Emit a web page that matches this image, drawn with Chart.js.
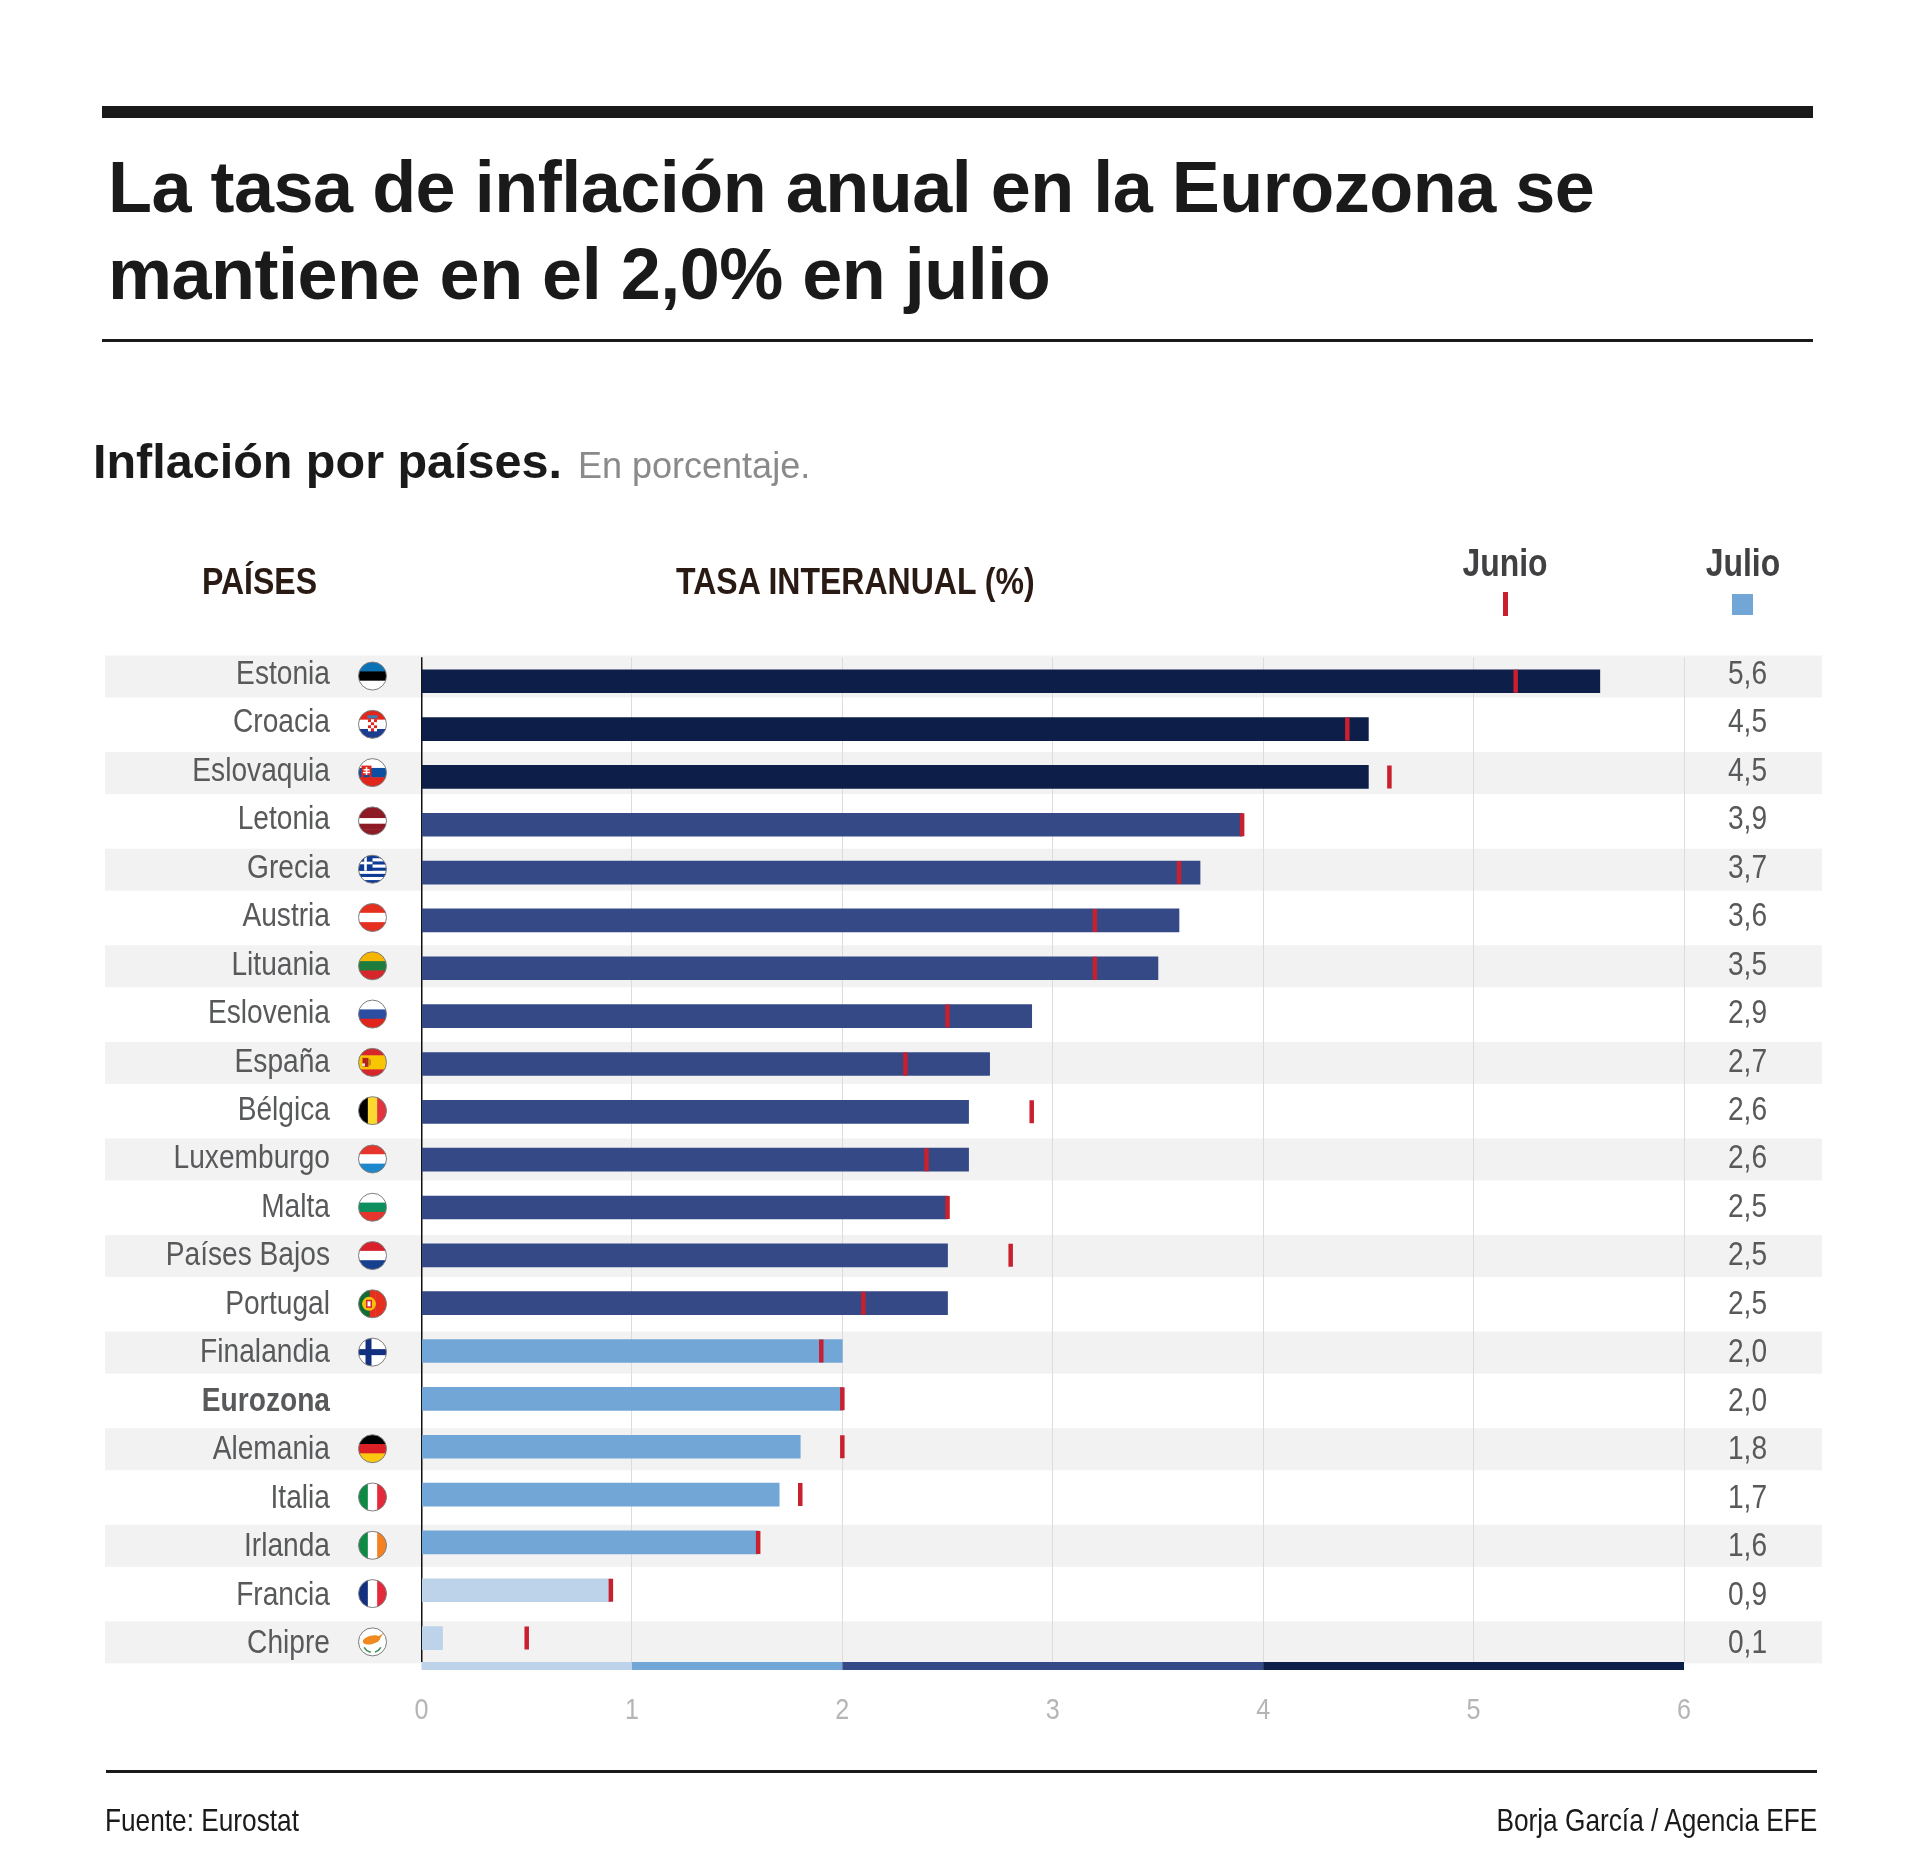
<!DOCTYPE html>
<html lang="es">
<head>
<meta charset="utf-8">
<title>Inflación por países</title>
<script src="https://cdn.jsdelivr.net/npm/chart.js@4"></script>
<style>
  html, body { margin: 0; padding: 0; background: #fff; }
  #page { position: relative; width: 1920px; height: 1874px; overflow: hidden; font-family: "Liberation Sans", Arial, sans-serif; }
  #page canvas { position: absolute; left: 0; top: 0; }
  .abs { position: absolute; white-space: nowrap; }
  .rule { position: absolute; background: #1a1a1a; }
  h1 { margin: 0; font-size: 72px; line-height: 87.3px; font-weight: bold; color: #1a1a1a; left: 108px; top: 144px; letter-spacing: -0.5px; }
  .cab { top: 560.5px; font-size: 37px; font-weight: bold; color: #2a1a14; transform: scaleX(.865); transform-origin: left center; }
  .mes { top: 541.5px; width: 200px; text-align: center; font-size: 38px; font-weight: bold; color: #414042; transform: scaleX(.84); }
  .pie { top: 1802px; font-size: 32px; color: #1a1a1a; }
</style>
</head>
<body>
<div id="page">
  <canvas id="chart" width="1920" height="1874"></canvas>
  <div class="rule" style="left:102px;top:106px;width:1711px;height:12px"></div>
  <h1 class="abs">La tasa de inflación anual en la Eurozona se<br>mantiene en el 2,0% en julio</h1>
  <div class="rule" style="left:102px;top:339px;width:1711px;height:3px"></div>
  <div class="abs" style="left:93px;top:433px;font-size:48.5px;font-weight:bold;color:#1a1a1a">Inflación por países.</div>
  <div class="abs" style="left:578px;top:445px;font-size:36px;color:#8a8a8a">En porcentaje.</div>
  <div class="abs cab" style="left:202px">PAÍSES</div>
  <div class="abs cab" style="left:676px">TASA INTERANUAL (%)</div>
  <div class="abs mes" style="left:1405px">Junio</div>
  <div class="abs mes" style="left:1643px">Julio</div>
  <div class="abs" style="left:1503px;top:592px;width:4.5px;height:24px;background:#c8202f"></div>
  <div class="abs" style="left:1732px;top:594px;width:21px;height:21px;background:#72a6d6"></div>
  <div class="rule" style="left:106px;top:1770px;width:1711px;height:3px"></div>
  <div class="abs pie" style="left:105px;transform:scaleX(.82);transform-origin:left center">Fuente: Eurostat</div>
  <div class="abs pie" style="right:103px;transform:scaleX(.82);transform-origin:right center">Borja García / Agencia EFE</div>
</div>
<script>
const paises = ['Estonia', 'Croacia', 'Eslovaquia', 'Letonia', 'Grecia', 'Austria', 'Lituania', 'Eslovenia', 'España', 'Bélgica', 'Luxemburgo', 'Malta', 'Países Bajos', 'Portugal', 'Finalandia', 'Eurozona', 'Alemania', 'Italia', 'Irlanda', 'Francia', 'Chipre'];
const julio = [5.6, 4.5, 4.5, 3.9, 3.7, 3.6, 3.5, 2.9, 2.7, 2.6, 2.6, 2.5, 2.5, 2.5, 2.0, 2.0, 1.8, 1.7, 1.6, 0.9, 0.1];
const junio = [5.2, 4.4, 4.6, 3.9, 3.6, 3.2, 3.2, 2.5, 2.3, 2.9, 2.4, 2.5, 2.8, 2.1, 1.9, 2.0, 2.0, 1.8, 1.6, 0.9, 0.5];
const ticksX = [0, 1, 2, 3, 4, 5, 6];
const tramosDesde = [0, 1, 2, 4];
const tramosHasta = [1, 2, 4, 6];
const tramosColor = ['#bcd3ea', '#72a6d6', '#344985', '#0d1f49'];

// No hay fuente estrecha instalada: se comprime en horizontal al dibujar
const ESTRECHO = 0.853;
const FUENTE = '"Liberation Sans", Arial, sans-serif';

function textoEstrecho(c, txt, x, y, align, font, color) {
  c.save();
  c.translate(x, y);
  c.scale(ESTRECHO, 1);
  c.font = font;
  c.fillStyle = color;
  c.textAlign = align;
  c.textBaseline = 'middle';
  c.fillText(txt, 0, 0);
  c.restore();
}

// Color de la barra según el tramo de la escala inferior
function colorTramo(v) {
  if (v >= 4) return tramosColor[3];
  if (v > 2) return tramosColor[2];
  if (v >= 1) return tramosColor[1];
  return tramosColor[0];
}

// Banderas: franjas horizontales (h) o verticales (v), con detalle opcional
const banderas = {
  Estonia: { h: ['#0a72b5', '#000000', '#ffffff'] },
  Croacia: { h: ['#e1251b', '#ffffff', '#1a3d8f'], extra: escudoCroacia },
  Eslovaquia: { h: ['#ffffff', '#0b4ea2', '#e1251b'], extra: escudoEslovaquia },
  Letonia: { h: ['#8e1a25', '#8e1a25', '#ffffff', '#8e1a25', '#8e1a25'] },
  Grecia: { h: ['#0d3a94', '#fff', '#0d3a94', '#fff', '#0d3a94', '#fff', '#0d3a94', '#fff', '#0d3a94'], extra: cantonGrecia },
  Austria: { h: ['#e5301f', '#ffffff', '#e5301f'] },
  Lituania: { h: ['#f7b500', '#1e7d3c', '#d7262b'] },
  Eslovenia: { h: ['#ffffff', '#2b4ea2', '#e1251b'] },
  'España': { h: ['#d7262b', '#f7c600', '#f7c600', '#d7262b'], extra: escudoEspana },
  'Bélgica': { v: ['#000000', '#fcd930', '#e1343f'] },
  Luxemburgo: { h: ['#e5352c', '#ffffff', '#1f87cc'] },
  Malta: { h: ['#ffffff', '#0d8f5d', '#e5352c'] },
  'Países Bajos': { h: ['#d8212c', '#ffffff', '#173f8f'] },
  Portugal: { v: ['#0f6b34', '#0f6b34', '#e5301f', '#e5301f', '#e5301f'], extra: escudoPortugal },
  Finalandia: { h: ['#ffffff'], extra: cruzFinlandia },
  Alemania: { h: ['#000000', '#dd1f26', '#fbc70f'] },
  Italia: { v: ['#0f8a46', '#ffffff', '#e5283a'] },
  Irlanda: { v: ['#0f8a46', '#ffffff', '#f58220'] },
  Francia: { v: ['#12307f', '#ffffff', '#e5283a'] },
  Chipre: { h: ['#ffffff'], extra: islaChipre }
};

function escudoCroacia(c, x, y) {
  for (let f = 0; f < 4; f++) {
    for (let k = 0; k < 3; k++) {
      c.fillStyle = (f + k) % 2 ? '#ffffff' : '#e1251b';
      c.fillRect(x - 4.5 + k * 3, y - 5 + f * 3, 3, 3);
    }
  }
  c.fillStyle = '#3c7fb8';
  c.fillRect(x - 5, y - 9, 10, 3);
}
function escudoEslovaquia(c, x, y) {
  c.fillStyle = '#e1251b';
  c.fillRect(x - 11, y - 7, 10, 12);
  c.fillStyle = '#ffffff';
  c.fillRect(x - 6.8, y - 5.5, 1.6, 8);
  c.fillRect(x - 9, y - 3.5, 6, 1.4);
  c.fillRect(x - 9.5, y - 0.8, 7, 1.4);
  c.fillStyle = '#0b4ea2';
  c.fillRect(x - 9, y + 2.5, 6, 2);
}
function cantonGrecia(c, x, y) {
  c.fillStyle = '#0d3a94';
  c.fillRect(x - 14, y - 14, 14, 15.5);
  c.fillStyle = '#ffffff';
  c.fillRect(x - 14, y - 7.5, 14, 2.6);
  c.fillRect(x - 8.3, y - 14, 2.6, 15.5);
}
function escudoEspana(c, x, y) {
  c.fillStyle = '#b5241c';
  c.fillRect(x - 10, y - 4.5, 6, 9);
  c.fillStyle = '#e9e2c8';
  c.fillRect(x - 10.5, y + 1, 3, 3);
  c.fillStyle = '#c98a1b';
  c.fillRect(x - 3.5, y - 3, 2, 6);
}
function escudoPortugal(c, x, y) {
  c.fillStyle = '#f4c20d';
  c.beginPath();
  c.arc(x - 3.5, y, 7, 0, Math.PI * 2);
  c.fill();
  c.fillStyle = '#d7262b';
  c.fillRect(x - 6.5, y - 4, 6, 8);
  c.fillStyle = '#ffffff';
  c.fillRect(x - 5, y - 2.5, 3, 5);
}
function cruzFinlandia(c, x, y) {
  c.fillStyle = '#12307f';
  c.fillRect(x - 14, y - 3, 28, 6);
  c.fillRect(x - 7, y - 14, 6, 28);
}
function islaChipre(c, x, y) {
  c.fillStyle = '#ee8a1f';
  c.beginPath();
  c.ellipse(x - 1, y - 2, 9, 4.2, -0.25, 0, Math.PI * 2);
  c.fill();
  c.beginPath();
  c.moveTo(x + 5, y - 5);
  c.lineTo(x + 11, y - 9);
  c.lineTo(x + 7, y - 3);
  c.fill();
  c.strokeStyle = '#3f8f5c';
  c.lineWidth = 1.6;
  c.beginPath();
  c.arc(x, y + 1, 9.5, 0.5, 1.3);
  c.moveTo(x - 3, y + 10.5);
  c.arc(x, y + 1, 9.5, 1.85, 2.65);
  c.stroke();
}

function dibujaBandera(c, pais, x, y) {
  const b = banderas[pais];
  if (!b) return;
  const r = 14;
  c.save();
  c.beginPath();
  c.arc(x, y, r, 0, Math.PI * 2);
  c.clip();
  const franjas = b.h || b.v;
  const paso = 2 * r / franjas.length;
  franjas.forEach((color, i) => {
    c.fillStyle = color;
    if (b.h) c.fillRect(x - r, y - r + i * paso, 2 * r, paso + 0.5);
    else c.fillRect(x - r + i * paso, y - r, paso + 0.5, 2 * r);
  });
  if (b.extra) b.extra(c, x, y);
  c.restore();
  c.strokeStyle = '#7d7d7d';
  c.lineWidth = 1;
  c.beginPath();
  c.arc(x, y, r, 0, Math.PI * 2);
  c.stroke();
}

// Franjas grises de fondo, por debajo de la rejilla
const FondoFilas = {
  id: 'fondoFilas',
  beforeDraw(chart) {
    const { ctx } = chart;
    const s = chart.scales.yFila;
    ctx.save();
    ctx.fillStyle = '#f2f2f2';
    paises.forEach((_, i) => {
      if (i % 2) return;
      ctx.fillRect(105, s.getPixelForValue(i) - 21, 1717, 42);
    });
    ctx.restore();
  }
};

// Barra de tramos, banderas y textos estrechos
const Adornos = {
  id: 'adornos',
  afterDatasetsDraw(chart) {
    const { ctx, chartArea } = chart;
    const x = chart.scales.x;
    const fila = chart.scales.yFila;
    const texto = chart.scales.yTexto;
    ctx.save();
    tramosColor.forEach((color, i) => {
      const a = x.getPixelForValue(tramosDesde[i]);
      const b = x.getPixelForValue(tramosHasta[i]);
      ctx.fillStyle = color;
      ctx.fillRect(a, chartArea.bottom, b - a, 8);
    });
    paises.forEach((p, i) => {
      const y = texto.getPixelForValue(i);
      const peso = p === 'Eurozona' ? 'bold ' : '';
      textoEstrecho(ctx, p, 330, y, 'right', peso + '33px ' + FUENTE, '#58595b');
      textoEstrecho(ctx, julio[i].toFixed(1).replace('.', ','), 1747.5, y, 'center', '33px ' + FUENTE, '#58595b');
      dibujaBandera(ctx, p, 372.5, fila.getPixelForValue(i) - 0.5);
    });
    ticksX.forEach(t => {
      textoEstrecho(ctx, String(t), x.getPixelForValue(t), 1710.5, 'center', '29.5px ' + FUENTE, '#b5b5b5');
    });
    ctx.restore();
  }
};

new Chart(document.getElementById('chart'), {
  type: 'bar',
  data: {
    labels: paises,
    datasets: [
      {
        type: 'line',
        label: 'Junio',
        data: junio.map((v, i) => ({ x: v, y: paises[i] })),
        showLine: false,
        pointStyle: 'line',
        rotation: 90,
        pointRadius: 11.5,
        pointHoverRadius: 11.5,
        pointBorderWidth: 4.5,
        pointBorderColor: '#c8202f',
        xAxisID: 'x',
        yAxisID: 'y',
        order: 0
      },
      {
        label: 'Julio',
        data: julio,
        backgroundColor: ctx => colorTramo(julio[ctx.dataIndex]),
        barThickness: 23,
        borderWidth: 0,
        xAxisID: 'x',
        yAxisID: 'y',
        order: 1
      }
    ]
  },
  options: {
    indexAxis: 'y',
    responsive: false,
    animation: false,
    devicePixelRatio: 1,
    layout: { padding: { top: 657.3, left: 421.5, right: 236 } },
    plugins: { legend: { display: false }, tooltip: { enabled: false } },
    scales: {
      y: { type: 'category', labels: paises, display: false, offset: true, grid: { display: false } },
      // Las franjas y los textos no siguen el mismo paso que las barras en el original
      yFila: { type: 'linear', display: false, offset: false, reverse: true, bounds: 'data', min: -0.398, max: 20.406 },
      yTexto: { type: 'linear', display: false, offset: false, reverse: true, bounds: 'data', min: -0.359, max: 20.37 },
      x: {
        type: 'linear',
        min: ticksX[0],
        max: ticksX[ticksX.length - 1],
        afterFit: s => { s.height = 212; },
        border: { display: false },
        grid: {
          drawTicks: false,
          color: ctx => (ctx.tick && ctx.tick.value === 0 ? '#111111' : '#dcdcdc'),
          lineWidth: ctx => (ctx.tick && ctx.tick.value === 0 ? 1.5 : 1)
        },
        ticks: { stepSize: 1, display: false }
      }
    }
  },
  plugins: [FondoFilas, Adornos]
});
</script>
</body>
</html>
